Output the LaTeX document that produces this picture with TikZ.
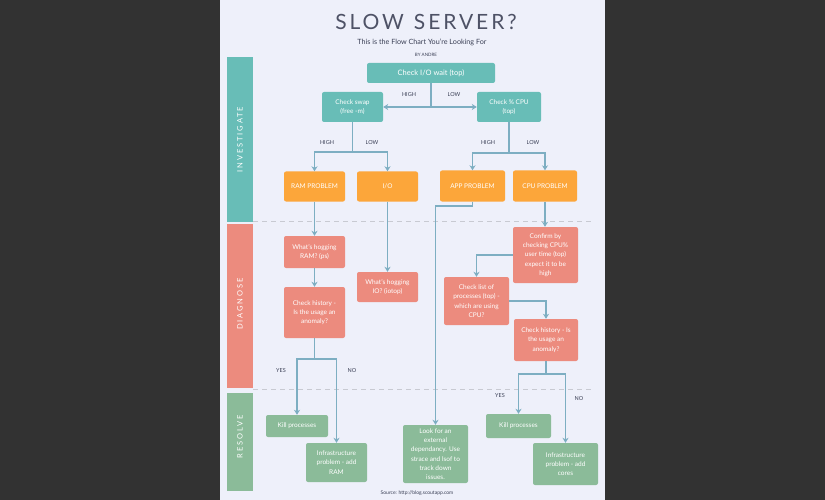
\documentclass[tikz,border=0pt]{standalone}
\usepackage{fontspec}
\setmainfont{Lato}
\newfontfamily\spacedfont{Lato}[LetterSpace=25]
\newfontfamily\titlefont{Lato}[LetterSpace=14]
\usetikzlibrary{arrows.meta}
\definecolor{bgdark}{RGB}{50,50,50}
\definecolor{pagebg}{RGB}{238,240,250}
\definecolor{tealc}{RGB}{104,189,183}
\definecolor{orangec}{RGB}{252,166,58}
\definecolor{salmonc}{RGB}{236,139,126}
\definecolor{greenc}{RGB}{139,187,153}
\definecolor{linec}{RGB}{125,174,194}
\definecolor{dashc}{RGB}{200,202,210}
\definecolor{textc}{RGB}{58,63,85}
\begin{document}
\begin{tikzpicture}[x=1pt,y=-1pt,
  box/.style={rounded corners=2pt, text=white, align=center, inner sep=1pt,
    font=\fontsize{6.5}{9.3}\selectfont},
  tealbox/.style={box, fill=tealc},
  orangebox/.style={box, fill=orangec},
  salmonbox/.style={box, fill=salmonc},
  greenbox/.style={box, fill=greenc},
  conn/.style={draw=linec, line width=1.4pt},
  arr/.style={conn, -{Stealth[length=5pt,width=6pt,inset=1.5pt]}},
  lbl/.style={text=textc, font=\fontsize{5.5}{6}\selectfont, inner sep=0pt},
  barlbl/.style={text=white, rotate=90, font=\fontsize{7.5}{8}\spacedfont, inner sep=0pt},
  sep/.style={draw=dashc, line width=1pt, dash pattern=on 5pt off 4pt}
]
\useasboundingbox (0,0) rectangle (825,500);
\fill[bgdark] (0,0) rectangle (825,500);
\fill[pagebg] (220,0) rectangle (605,500);

% title
\node[text=textc!90, font=\fontsize{21}{24}\titlefont] (title) at (426,22) {SLOW\hspace{10pt}SERVER?};
\node[text=textc, font=\fontsize{7.2}{8}\selectfont] (subtitle) at (422,42) {This is the Flow Chart You're Looking For};
\node[text=textc, font=\fontsize{4.5}{5}\selectfont] (author) at (426,55) {BY ANDRE};

% sidebars
\fill[tealc] (227,57) rectangle (253,222);
\fill[salmonc] (227,224) rectangle (253,388);
\fill[greenc] (227,393) rectangle (253,491);
\node[barlbl] (inv) at (240,139.5) {INVESTIGATE};
\node[barlbl] (diag) at (240,304) {DIAGNOSE};
\node[barlbl] (res) at (240,437) {RESOLVE};

% separators
\coordinate (s1a) at (253,221); \coordinate (s1b) at (592,221);
\coordinate (s2a) at (253,389); \coordinate (s2b) at (592,389);
\draw[sep] (s1a) -- (s1b);
\draw[sep] (s2a) -- (s2b);

% investigate
\node[tealbox, minimum width=128pt, minimum height=20pt, font=\fontsize{7.5}{9}\selectfont] (io) at (431,73) {Check I/O wait (top)};
\node[tealbox, minimum width=61pt, minimum height=30pt] (swap) at (352.5,107) {Check swap\\(free -m)};
\node[tealbox, minimum width=64pt, minimum height=30pt] (cpu) at (509,107) {Check \% CPU\\(top)};
\node[orangebox, minimum width=61pt, minimum height=30pt] (ram) at (314.5,186.5) {RAM PROBLEM};
\node[orangebox, minimum width=61pt, minimum height=30pt] (ionode) at (387.5,186.5) {I/O};
\node[orangebox, minimum width=65pt, minimum height=31pt] (app) at (472.5,186) {APP PROBLEM};
\node[orangebox, minimum width=64pt, minimum height=31pt] (cpuprob) at (545,186) {CPU PROBLEM};

% diagnose
\node[salmonbox, minimum width=61pt, minimum height=32pt] (hogram) at (314.5,252) {What's hogging\\RAM? (ps)};
\node[salmonbox, minimum width=61pt, minimum height=51pt] (hist1) at (314.5,312.5) {Check history -\\Is the usage an\\anomaly?};
\node[salmonbox, minimum width=61pt, minimum height=30pt] (hogio) at (387.5,287) {What's hogging\\IO? (iotop)};
\node[salmonbox, minimum width=65pt, minimum height=56pt] (confirm) at (545.5,255) {Confirm by\\checking CPU\%\\user time (top)\\expect it to be\\high};
\node[salmonbox, minimum width=65pt, minimum height=48pt] (checklist) at (476.5,301) {Check list of\\processes (top) -\\which are using\\CPU?};
\node[salmonbox, minimum width=64pt, minimum height=42pt] (hist2) at (546,340) {Check history - Is\\the usage an\\anomaly?};

% resolve
\node[greenbox, minimum width=62pt, minimum height=22pt] (kill1) at (297,426) {Kill processes};
\node[greenbox, minimum width=61pt, minimum height=39pt] (infra1) at (336.5,462.5) {Infrastructure\\problem - add\\RAM};
\node[greenbox, minimum width=65pt, minimum height=58pt] (look) at (435.5,454) {Look for an\\external\\dependancy. Use\\strace and lsof to\\track down\\issues.};
\node[greenbox, minimum width=65pt, minimum height=24pt] (kill2) at (518.5,426) {Kill processes};
\node[greenbox, minimum width=65pt, minimum height=42pt] (infra2) at (565.5,464) {Infrastructure\\problem - add\\cores};

% source
\node[text=textc, font=\fontsize{5}{6}\selectfont] (source) at (417,493) {Source: http://blog.scoutapp.com};

% connectors
\coordinate (j1) at (431,107);
\draw[conn] (io.south) -- (j1);
\draw[arr] (j1) -- (swap.east);
\draw[arr] (j1) -- (cpu.west);
\node[lbl] (high1) at (409,95) {HIGH};
\node[lbl] (low1) at (454,95) {LOW};

\coordinate (j2) at (352.5,152);
\draw[conn] (swap.south) -- (j2);
\draw[arr] (j2) -| (ram.north);
\draw[arr] (j2) -| (ionode.north);
\node[lbl] (high2) at (327,143) {HIGH};
\node[lbl] (low2) at (372,143) {LOW};

\coordinate (j3) at (509,153);
\draw[conn] (cpu.south) -- (j3);
\draw[arr] (j3) -| (app.north);
\draw[arr] (j3) -| (cpuprob.north);
\node[lbl] (high3) at (488,143) {HIGH};
\node[lbl] (low3) at (533,143) {LOW};

\draw[arr] (ram.south) -- (hogram.north);
\draw[arr] (ionode.south) -- (hogio.north);
\draw[arr] (hogram.south) -- (hist1.north);

\coordinate (j4) at (314.5,359);
\draw[conn] (hist1.south) -- (j4);
\draw[arr] (j4) -| (kill1.north);
\draw[arr] (j4) -| (infra1.north);
\node[lbl] (yes1) at (281,371) {YES};
\node[lbl] (no1) at (352,371) {NO};

\coordinate (j5) at (472.5,206);
\draw[arr] (app.south) -- (j5) -| (look.north);

\draw[arr] (cpuprob.south) -- (cpuprob.south |- confirm.north);
\draw[arr] (confirm.west) -| (checklist.north);
\draw[arr] (checklist.east) -| (hist2.north);

\coordinate (j6) at (546,374);
\draw[conn] (hist2.south) -- (j6);
\draw[arr] (j6) -| (kill2.north);
\draw[arr] (j6) -| (infra2.north);
\node[lbl] (yes2) at (500,396) {YES};
\node[lbl] (no2) at (579,399) {NO};
\end{tikzpicture}
\end{document}
